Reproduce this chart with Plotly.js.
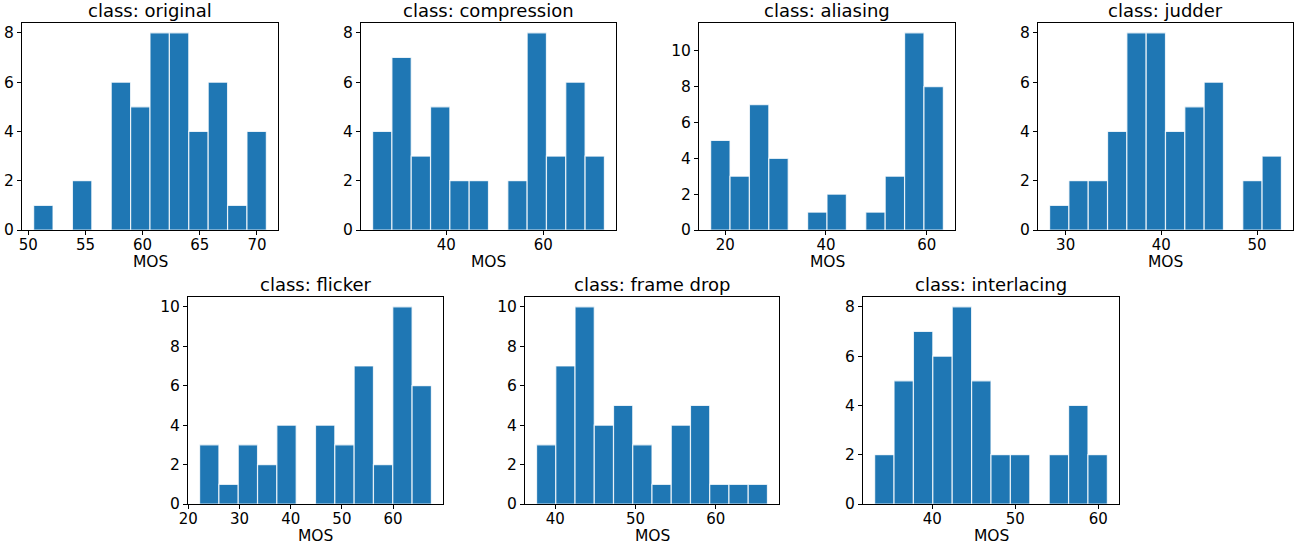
<!DOCTYPE html>
<html>
<head>
<meta charset="utf-8">
<script src="https://cdn.plot.ly/plotly-3.0.1.min.js"></script>
<style>html,body{margin:0;padding:0;background:#fff;}#chart{width:1299px;height:544px;}</style>
</head>
<body>
<div id="chart"></div>
<script>
// Class names (subplot titles)
const classNames = ["original", "compression", "aliasing", "judder", "flicker", "frame drop", "interlacing"];

// Histogram counts per class (12 bins each)
const countsOriginal    = [1, 0, 2, 0, 6, 5, 8, 8, 4, 6, 1, 4];
const countsCompression = [4, 7, 3, 5, 2, 2, 0, 2, 8, 3, 6, 3];
const countsAliasing    = [5, 3, 7, 4, 0, 1, 2, 0, 1, 3, 11, 8];
const countsJudder      = [1, 2, 2, 4, 8, 8, 4, 5, 6, 0, 2, 3];
const countsFlicker     = [3, 1, 3, 2, 4, 0, 4, 3, 7, 2, 10, 6];
const countsFrameDrop   = [3, 7, 10, 4, 5, 3, 1, 4, 5, 1, 1, 1];
const countsInterlacing = [2, 5, 7, 6, 8, 5, 2, 2, 0, 2, 4, 2];

// MOS range covered by the bins (min, max) for each class
const mosMin = [50.47, 24.8, 17.1, 28.32, 22.2, 37.67, 33.05];
const mosMax = [70.82, 72.6, 63.3, 52.55, 67.49, 66.43, 61.09];

// x tick spacing per class
const xTickStep = [5, 20, 20, 10, 10, 10, 10];

const allCounts = [countsOriginal, countsCompression, countsAliasing, countsJudder,
                   countsFlicker, countsFrameDrop, countsInterlacing];

// Layout geometry (pixels)
const W = 1299, H = 544;
const boxes = [
  [22, 278, 23, 230], [361, 616, 23, 230], [699, 955, 23, 230], [1038, 1293, 23, 230],
  [188, 443, 297, 504], [525, 779, 297, 504], [863, 1119, 297, 504]
];

const FONT = "DejaVu Sans, sans-serif";
const data = [];
const layout = {
  width: W, height: H,
  margin: {l: 0, r: 0, t: 0, b: 0},
  paper_bgcolor: "#ffffff",
  plot_bgcolor: "#ffffff",
  showlegend: false,
  bargap: 0,
  font: {family: FONT, size: 15, color: "#000"},
  annotations: []
};

allCounts.forEach((counts, i) => {
  const n = counts.length;
  const lo = mosMin[i], hi = mosMax[i];
  const bw = (hi - lo) / n;
  const centers = counts.map((_, k) => lo + bw * (k + 0.5));
  const idx = i === 0 ? "" : String(i + 1);
  data.push({
    type: "bar",
    x: centers,
    y: counts,
    width: counts.map(() => bw),
    xaxis: "x" + idx,
    yaxis: "y" + idx,
    marker: {color: "#1f77b4", line: {color: "rgba(255,255,255,0.8)", width: 1.2}},
    hoverinfo: "x+y"
  });
  const b = boxes[i];
  const span = hi - lo;
  const ymax = Math.max(...counts);
  layout["xaxis" + idx] = {
    domain: [b[0] / W, b[1] / W],
    anchor: "y" + idx,
    range: [lo - 0.05 * span, hi + 0.05 * span],
    dtick: xTickStep[i], tick0: 0,
    showgrid: false, zeroline: false,
    showline: true, mirror: true, linecolor: "#000", linewidth: 1,
    ticks: "outside", ticklen: 4, tickcolor: "#000",
    ticklabelstandoff: -3,
    tickfont: {family: FONT, size: 15, color: "#000"}
  };
  layout["yaxis" + idx] = {
    domain: [1 - b[3] / H, 1 - b[2] / H],
    anchor: "x" + idx,
    range: [0, ymax * 1.05],
    dtick: 2, tick0: 0,
    showgrid: false, zeroline: false,
    showline: true, mirror: true, linecolor: "#000", linewidth: 1,
    ticks: "outside", ticklen: 4, tickcolor: "#000",
    tickfont: {family: FONT, size: 15.5, color: "#000"}
  };
  layout.annotations.push({
    text: "class: " + classNames[i],
    xref: "paper", yref: "paper",
    x: (b[0] + b[1]) / 2 / W,
    y: 1 - b[2] / H,
    xanchor: "center", yanchor: "bottom",
    yshift: 0,
    showarrow: false,
    font: {family: FONT, size: 18, color: "#000"}
  });
  layout.annotations.push({
    text: "MOS",
    xref: "paper", yref: "paper",
    x: (b[0] + b[1]) / 2 / W,
    y: 1 - (b[3] + 31.5) / H,
    xanchor: "center", yanchor: "middle",
    showarrow: false,
    font: {family: FONT, size: 15.5, color: "#000"}
  });
});

Plotly.newPlot("chart", data, layout, {staticPlot: true, displayModeBar: false});
</script>
</body>
</html>
